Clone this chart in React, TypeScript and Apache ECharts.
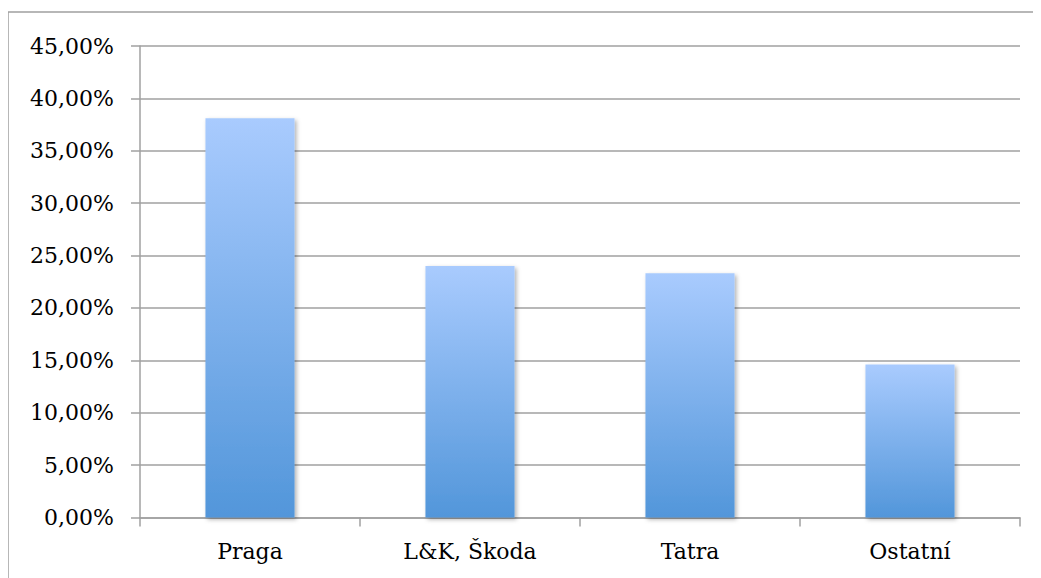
import React, { useEffect, useRef } from "react";
import * as echarts from "echarts";

const categories = ["Praga", "L&K, Škoda", "Tatra", "Ostatní"];
const values = [38.1, 24.0, 23.3, 14.6];
const yTicks = [0, 5, 10, 15, 20, 25, 30, 35, 40, 45];

const FONT = "DejaVu Serif";

export default function App() {
  const ref = useRef<HTMLDivElement>(null);
  useEffect(() => {
    if (!ref.current) return;
    const chart = echarts.init(ref.current, null, { renderer: "svg" });
    chart.setOption({
      animation: false,
      backgroundColor: "#ffffff",
      textStyle: { fontFamily: FONT },
      graphic: [
        {
          type: "polyline",
          shape: { points: [[0, 600], [0, 2], [1100, 2]] },
          style: { stroke: "#a0a0a0", lineWidth: 1.5, fill: "none" },
          silent: true,
        },
      ],
      grid: { left: 132, right: 21, top: 36, bottom: 60.5 },
      xAxis: {
        type: "category",
        data: categories,
        axisLine: { lineStyle: { color: "#a0a0a0", width: 1.5 } },
        axisTick: { show: true, length: 9, lineStyle: { color: "#a0a0a0", width: 1.5 } },
        axisLabel: { color: "#000", fontFamily: FONT, fontSize: 22, margin: 23 },
      },
      yAxis: {
        type: "value",
        min: yTicks[0],
        max: yTicks[yTicks.length - 1],
        interval: 5,
        axisLine: { show: true, lineStyle: { color: "#a0a0a0", width: 1.5 } },
        axisTick: { show: true, length: 9, lineStyle: { color: "#a0a0a0", width: 1.5 } },
        splitLine: { show: true, lineStyle: { color: "#a0a0a0", width: 1.5 } },
        axisLabel: {
          color: "#000",
          fontFamily: FONT,
          fontSize: 22,
          margin: 26,
          formatter: (v: number) => v.toFixed(2).replace(".", ",") + "%",
        },
      },
      series: [
        {
          type: "bar",
          data: values,
          barWidth: "40.5%",
          itemStyle: {
            color: new echarts.graphic.LinearGradient(0, 0, 0, 1, [
              { offset: 0, color: "#a9cbfe" },
              { offset: 1, color: "#5296da" },
            ]),
            shadowColor: "rgba(0,0,0,0.3)",
            shadowBlur: 4,
            shadowOffsetX: 2,
            shadowOffsetY: 2,
          },
        },
      ],
    });
    return () => chart.dispose();
  }, []);
  return (
    <div style={{ position: "relative", width: 1033, height: 568, marginTop: 2 }}>
      <div ref={ref} style={{ width: 1033, height: 568 }} />
    </div>
  );
}
